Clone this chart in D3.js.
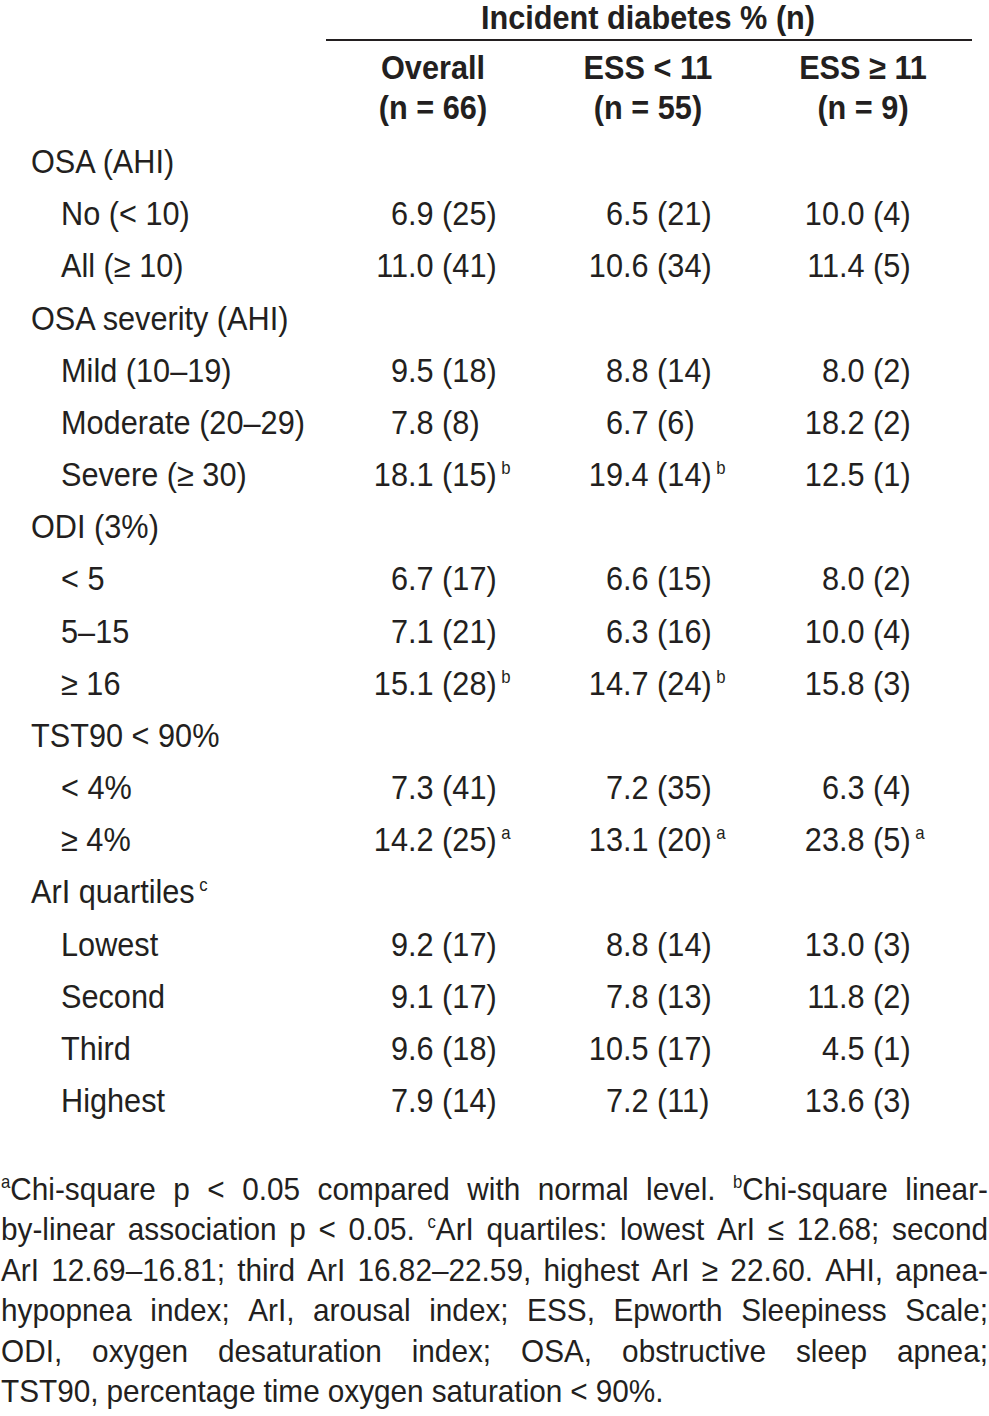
<!DOCTYPE html>
<html>
<head>
<meta charset="utf-8">
<script src="https://d3js.org/d3.v7.min.js"></script>
<style>
  body { margin: 0; background: #fff; }
  svg text { font-family: "Liberation Sans Narrow", "Liberation Sans", Arial, sans-serif; fill: #231f20; }
</style>
</head>
<body>
<svg id="tbl"></svg>
<script>
// table rows: group headers have level 0, sub rows level 1
var rowLabels = ["OSA (AHI)", "No (< 10)", "All (≥ 10)", "OSA severity (AHI)", "Mild (10–19)",
  "Moderate (20–29)", "Severe (≥ 30)", "ODI (3%)", "< 5", "5–15", "≥ 16", "TST90 < 90%",
  "< 4%", "≥ 4%", "ArI quartiles", "Lowest", "Second", "Third", "Highest"];
var rowLevel = [0, 1, 1, 0, 1, 1, 1, 0, 1, 1, 1, 0, 1, 1, 0, 1, 1, 1, 1];
var labelSup = ["", "", "", "", "", "", "", "", "", "", "", "", "", "", "c", "", "", "", ""];

var columns = ["Overall", "ESS < 11", "ESS ≥ 11"];
var columnN = [66, 55, 9];

// percent, count and footnote mark per column (null on group rows)
var overallPct = [null, 6.9, 11.0, null, 9.5, 7.8, 18.1, null, 6.7, 7.1, 15.1, null, 7.3, 14.2, null, 9.2, 9.1, 9.6, 7.9];
var overallN   = [null, 25, 41, null, 18, 8, 15, null, 17, 21, 28, null, 41, 25, null, 17, 17, 18, 14];
var overallSup = ["", "", "", "", "", "", "b", "", "", "", "b", "", "", "a", "", "", "", "", ""];

var essLowPct = [null, 6.5, 10.6, null, 8.8, 6.7, 19.4, null, 6.6, 6.3, 14.7, null, 7.2, 13.1, null, 8.8, 7.8, 10.5, 7.2];
var essLowN   = [null, 21, 34, null, 14, 6, 14, null, 15, 16, 24, null, 35, 20, null, 14, 13, 17, 11];
var essLowSup = ["", "", "", "", "", "", "b", "", "", "", "b", "", "", "a", "", "", "", "", ""];

var essHighPct = [null, 10.0, 11.4, null, 8.0, 18.2, 12.5, null, 8.0, 10.0, 15.8, null, 6.3, 23.8, null, 13.0, 11.8, 4.5, 13.6];
var essHighN   = [null, 4, 5, null, 2, 2, 1, null, 2, 4, 3, null, 4, 5, null, 3, 2, 1, 3];
var essHighSup = ["", "", "", "", "", "", "", "", "", "", "", "", "", "a", "", "", "", "", ""];

var footLines = [
  "^a Chi-square p < 0.05 compared with normal level. ^b Chi-square linear-",
  "by-linear association p < 0.05. ^c ArI quartiles: lowest ArI ≤ 12.68; second",
  "ArI 12.69–16.81; third ArI 16.82–22.59, highest ArI ≥ 22.60. AHI, apnea-",
  "hypopnea index; ArI, arousal index; ESS, Epworth Sleepiness Scale;",
  "ODI, oxygen desaturation index; OSA, obstructive sleep apnea;",
  "TST90, percentage time oxygen saturation < 90%."
];

var width = 989, height = 1416;
var fs = 33;
var sx = 0.93;   // the original face is a little condensed

var svg = d3.select("#tbl").attr("width", width).attr("height", height);

// put a text at x,y squeezed horizontally
function at(x, y) { return "translate(" + x + "," + y + ") scale(" + sx + ",1)"; }

var series = [
  { pct: overallPct, n: overallN, sup: overallSup },
  { pct: essLowPct, n: essLowN, sup: essLowSup },
  { pct: essHighPct, n: essHighN, sup: essHighSup }
];

// scales
var y = d3.scalePoint().domain(d3.range(rowLabels.length)).range([162, 1101]);
var colCenter = d3.scalePoint().domain(columns).range([433, 863]);
var colDecimal = d3.scaleOrdinal().domain(columns).range([408, 623, 839]);
var indent = d3.scaleOrdinal().domain([0, 1]).range([31, 61]);

// header
svg.append("text")
  .attr("transform", at(648, 29))
  .attr("text-anchor", "middle")
  .style("font-size", fs + "px").style("font-weight", "bold")
  .text("Incident diabetes % (n)");

svg.append("line")
  .attr("x1", 326).attr("x2", 972).attr("y1", 40).attr("y2", 40)
  .attr("stroke", "#231f20").attr("stroke-width", 2);

var head = svg.selectAll(".head").data(columns).enter().append("g").attr("class", "head");
head.append("text")
  .attr("transform", function(d) { return at(colCenter(d), 79); })
  .attr("text-anchor", "middle")
  .style("font-size", fs + "px").style("font-weight", "bold")
  .text(function(d) { return d; });
head.append("text")
  .attr("transform", function(d) { return at(colCenter(d), 119); })
  .attr("text-anchor", "middle")
  .style("font-size", fs + "px").style("font-weight", "bold")
  .text(function(d, i) { return "(n = " + columnN[i] + ")"; });

// row labels
var lab = svg.selectAll(".lab").data(rowLabels).enter().append("text")
  .attr("class", "lab")
  .attr("transform", function(d, i) { return at(indent(rowLevel[i]), y(i) + 11); })
  .style("font-size", fs + "px");
lab.append("tspan").text(function(d) { return d; });
lab.append("tspan")
  .attr("dx", 5).attr("dy", -12)
  .style("font-size", "18px")
  .text(function(d, i) { return labelSup[i]; });

// cells, aligned on the decimal point
columns.forEach(function(col, c) {
  var s = series[c];
  var rows = d3.range(rowLabels.length).filter(function(i) { return s.pct[i] !== null; });
  var g = svg.append("g");
  g.selectAll(".int").data(rows).enter().append("text")
    .attr("transform", function(i) { return at(colDecimal(col), y(i) + 11); })
    .attr("text-anchor", "end")
    .style("font-size", fs + "px")
    .text(function(i) { return Math.floor(s.pct[i]); });
  var rest = g.selectAll(".rest").data(rows).enter().append("text")
    .attr("transform", function(i) { return at(colDecimal(col), y(i) + 11); })
    .style("font-size", fs + "px");
  rest.append("tspan")
    .text(function(i) { return "." + s.pct[i].toFixed(1).split(".")[1] + " (" + s.n[i] + ")"; });
  rest.append("tspan")
    .attr("dx", 5).attr("dy", -12)
    .style("font-size", "18px")
    .text(function(i) { return s.sup[i]; });
});

// footnote, justified word by word
var footY = d3.scalePoint().domain(d3.range(footLines.length)).range([1200, 1402]);
footLines.forEach(function(line, li) {
  var words = line.split(" ");
  var tokens = [];
  for (var k = 0; k < words.length; k++) {
    if (words[k].charAt(0) === "^") { tokens.push({ sup: words[k].slice(1), txt: words[k + 1] }); k++; }
    else tokens.push({ sup: "", txt: words[k] });
  }
  var nodes = tokens.map(function(t) {
    var el = svg.append("text").style("font-size", "32px");
    if (t.sup) el.append("tspan").attr("dy", -12).style("font-size", "18px").text(t.sup);
    el.append("tspan").attr("dy", t.sup ? 12 : 0).text(t.txt);
    return el;
  });
  var widths = nodes.map(function(el) { return el.node().getComputedTextLength() * sx; });
  var total = d3.sum(widths);
  var last = li === footLines.length - 1;
  var gap = last ? 8 : (width - 2 - total) / (nodes.length - 1);
  var x = 1;
  nodes.forEach(function(el, k) { el.attr("transform", at(x, footY(li))); x += widths[k] + gap; });
});
</script>
</body>
</html>
